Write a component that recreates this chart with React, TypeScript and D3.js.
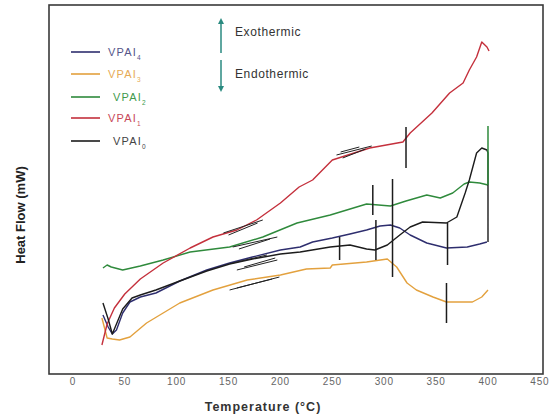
import React from "react";
import * as d3 from "d3";

// Temperature (°C) vs heat flow (arbitrary units, no y ticks in the original)
const vpai4: [number, number][] = [
  [29, 59], [34, 47], [38, 40], [42, 44], [48, 61], [55, 72], [65, 77], [80, 81], [103, 93],
  [129, 104], [151, 111], [173, 117], [200, 124], [219, 127], [231, 132], [250, 136], [267, 140],
  [283, 144], [296, 148], [306, 149], [315, 146], [325, 139], [341, 131], [360, 126], [380, 127],
  [392, 130], [399, 132],
];
const vpai3: [number, number][] = [
  [28, 56], [31, 44], [33, 36], [38, 35], [45, 34], [55, 37], [71, 51], [87, 61], [103, 71],
  [135, 84], [168, 94], [200, 99], [225, 105], [248, 106], [250, 109], [283, 112], [303, 115],
  [312, 107], [322, 91], [331, 84], [347, 77], [360, 72], [385, 72], [394, 77], [400, 84],
];
const vpai2: [number, number][] = [
  [29, 106], [33, 109], [37, 107], [48, 104], [65, 108], [87, 114], [113, 122], [151, 127],
  [183, 137], [216, 151], [248, 159], [283, 170], [306, 168], [321, 173], [341, 179], [354, 176],
  [366, 181], [377, 190], [382, 192], [392, 191], [400, 189],
];
const vpai1: [number, number][] = [
  [28, 29], [33, 50], [40, 66], [50, 80], [65, 95], [87, 111], [113, 126], [135, 137], [158, 144],
  [177, 154], [200, 171], [218, 187], [231, 194], [250, 214], [286, 226], [318, 232], [325, 241],
  [346, 261], [363, 281], [376, 291], [382, 304], [389, 317], [394, 332], [399, 327], [401, 323],
];
const vpai0: [number, number][] = [
  [29, 71], [34, 55], [38, 40], [42, 50], [48, 65], [57, 76], [65, 79], [80, 84], [103, 93],
  [129, 103], [151, 110], [173, 115], [200, 120], [219, 122], [248, 127], [267, 129], [283, 125],
  [291, 124], [303, 129], [315, 139], [325, 147], [337, 152], [360, 151], [370, 157], [378, 181],
  [382, 194], [389, 221], [394, 226], [399, 224], [400, 221], [400, 132],
];

const seriesNames = ["VPAI4", "VPAI3", "VPAI2", "VPAI1", "VPAI0"];
const seriesSubs = ["4", "3", "2", "1", "0"];
const seriesColors = ["#2e2e6e", "#e3a13e", "#2f8a3c", "#c4303c", "#1c1c1c"];
const legendTextColors = ["#55558a", "#e6aa55", "#3f9a4c", "#c84858", "#444444"];
const seriesData = [vpai4, vpai3, vpai2, vpai1, vpai0];

// transition markers: [temperature, from value, to value]
const markers: [number, number, number][] = [
  [321, 247, 206], [289, 189, 159], [292, 154, 114], [308, 195, 97],
  [257, 137, 114], [361, 151, 109], [360, 91, 51],
];
const greenMarker: [number, number, number] = [400, 248, 189];

// tangent scribbles: [t1, v1, t2, v2]
const tangents: [number, number, number, number][] = [
  [254, 219, 288, 228], [260, 216, 282, 225], [258, 222, 276, 227],
  [145, 141, 183, 154], [150, 139, 178, 151],
  [154, 127, 197, 137], [160, 125, 190, 135],
  [154, 111, 187, 119], [158, 104, 197, 114], [165, 107, 195, 116],
  [151, 84, 199, 97], [158, 86, 192, 95],
];

const xTicks = [0, 50, 100, 150, 200, 250, 300, 350, 400, 450];

export default function App() {
  const W = 551, H = 419;
  const x = d3.scaleLinear().domain([-23, 453]).range([49, 543]);
  const y = d3.scaleLinear().domain([0, 369]).range([374, 5]);
  const line = d3.line<[number, number]>().x(d => x(d[0])).y(d => y(d[1])).curve(d3.curveLinear);
  const legendY = [52, 74, 97, 118, 141];
  const legendTextX = [108, 108, 113, 108, 113];
  const teal = "#2a8a80";
  return (
    <svg width={W} height={H} style={{ position: "absolute", left: 0, top: 0, background: "#fff" }}
      fontFamily="Arial, 'Liberation Sans', sans-serif">
      <rect x={0} y={0} width={W} height={H} fill="#fff" />
      {seriesData.map((d, i) => (
        <path key={i} d={line(d) || ""} fill="none" stroke={seriesColors[i]} strokeWidth={1.4} strokeLinejoin="round" />
      ))}
      {tangents.map((t, i) => (
        <line key={i} x1={x(t[0])} y1={y(t[1])} x2={x(t[2])} y2={y(t[3])} stroke="#222" strokeWidth={1} />
      ))}
      {markers.map((m, i) => (
        <line key={i} x1={x(m[0])} y1={y(m[1])} x2={x(m[0])} y2={y(m[2])} stroke="#1c1c1c" strokeWidth={1.5} />
      ))}
      <line x1={x(greenMarker[0])} y1={y(greenMarker[1])} x2={x(greenMarker[0])} y2={y(greenMarker[2])} stroke="#2f8a3c" strokeWidth={1.5} />
      {/* frame */}
      <rect x={49} y={5} width={494} height={369} fill="none" stroke="#3a3a3a" strokeWidth={1.6} />
      {/* x tick labels */}
      {xTicks.map(t => (
        <text key={t} x={x(t)} y={385} fontSize={10} fill="#666" textAnchor="middle" letterSpacing={0.8}>{t}</text>
      ))}
      <text x={263} y={411} fontSize={12.5} fontWeight="bold" fill="#333" textAnchor="middle" letterSpacing={1}>Temperature (°C)</text>
      <text transform="translate(25,215) rotate(-90)" fontSize={13} fontWeight="bold" fill="#222" textAnchor="middle">Heat Flow (mW)</text>
      {/* legend */}
      {seriesNames.map((n, i) => (
        <g key={n}>
          <line x1={71} x2={100} y1={legendY[i]} y2={legendY[i]} stroke={seriesColors[i]} strokeWidth={1.6} />
          <text x={legendTextX[i]} y={legendY[i] + 4} fontSize={11} fill={legendTextColors[i]} letterSpacing={1.2}>
            VPAI<tspan fontSize={6.5} dy={4}>{seriesSubs[i]}</tspan>
          </text>
        </g>
      ))}
      {/* exo / endo arrows */}
      <line x1={221} x2={221} y1={22} y2={53} stroke={teal} strokeWidth={1.5} />
      <path d="M218,24 L221,18 L224,24 Z" fill={teal} />
      <line x1={221} x2={221} y1={60} y2={88} stroke={teal} strokeWidth={1.5} />
      <path d="M218,86 L221,92 L224,86 Z" fill={teal} />
      <text x={235} y={36} fontSize={12} fill="#333" letterSpacing={0.6}>Exothermic</text>
      <text x={235} y={78} fontSize={12} fill="#333" letterSpacing={0.6}>Endothermic</text>
    </svg>
  );
}
